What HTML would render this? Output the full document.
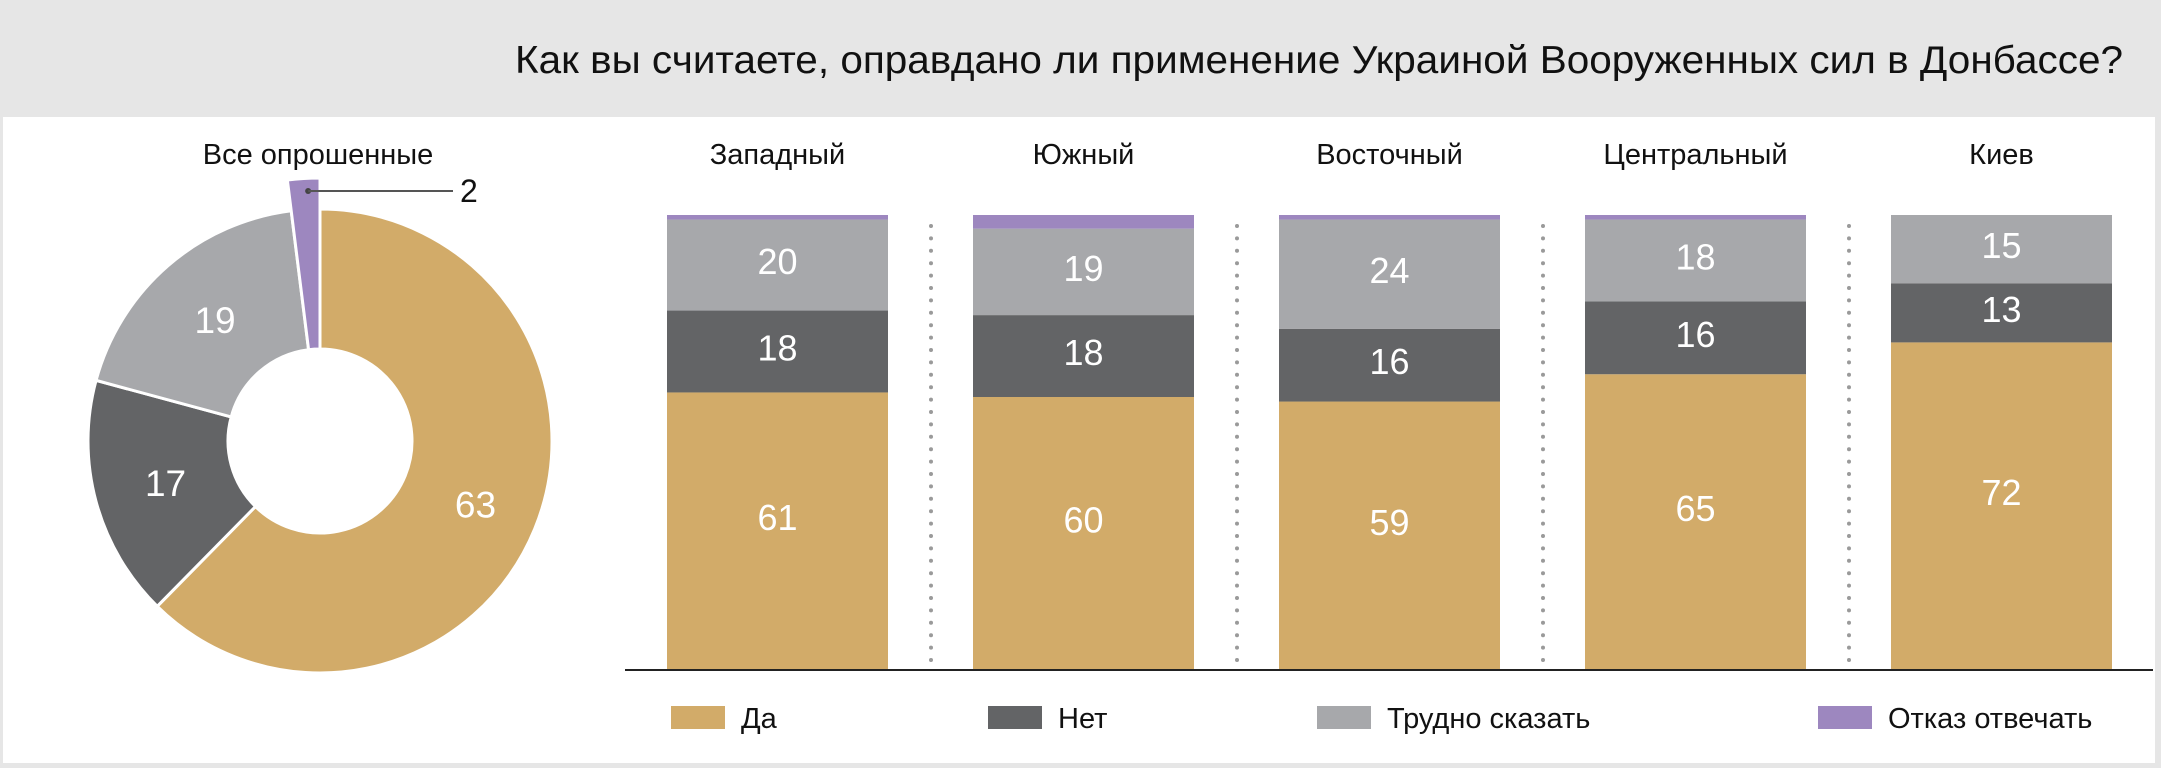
<!DOCTYPE html>
<html><head><meta charset="utf-8">
<style>
html,body{margin:0;padding:0;background:#e6e6e6;}
svg{display:block;font-family:"Liberation Sans","DejaVu Sans",sans-serif;}
</style></head>
<body>
<svg id="chart" width="2161" height="768" viewBox="0 0 2161 768" xmlns="http://www.w3.org/2000/svg">
<rect x="0" y="0" width="2161" height="768" fill="#e6e6e6"/>
<rect x="3" y="117" width="2152" height="646" fill="#ffffff"/>
<text x="2123" y="73" text-anchor="end" font-size="39" fill="#111" textLength="1608" lengthAdjust="spacingAndGlyphs">Как вы считаете, оправдано ли применение Украиной Вооруженных сил в  Донбассе?</text>
<g id="donut"></g>
<g id="bars"></g>
<g id="legend"></g>
</svg>
<script>
const seriesNames = ["Да","Нет","Трудно сказать","Отказ отвечать"];
const colors = ["#d2ab69","#636466","#a7a8ab","#9d87bf"];
const donutValues = [63,17,19,2];
const categories = ["Западный","Южный","Восточный","Центральный","Киев"];
const yesValues = [61,60,59,65,72];
const noValues = [18,18,16,16,13];
const hardValues = [20,19,24,18,15];
const refuseValues = [1,3,1,1,0];

const NS="http://www.w3.org/2000/svg";
function mk(tag,attrs,parent){const e=document.createElementNS(NS,tag);for(const k in attrs)e.setAttribute(k,attrs[k]);parent.appendChild(e);return e;}

// Donut
const dg=document.getElementById('donut');
const cx=320, cy=441, rOut=232, rIn=92, rExp=263;
const total=donutValues.reduce((a,b)=>a+b,0);
function pt(r,a){return [cx+r*Math.sin(a), cy-r*Math.cos(a)];}
let acc=0;
const donutNames=['donut-slice-yes','donut-slice-no','donut-slice-hard','donut-slice-refuse'];
const labelPos=[];
donutValues.forEach((v,i)=>{
  const a0=acc/total*2*Math.PI; acc+=v; const a1=acc/total*2*Math.PI;
  const ro = i===3 ? rExp : rOut;
  const large=(a1-a0)>Math.PI?1:0;
  const p0=pt(ro,a0),p1=pt(ro,a1),q1=pt(rIn,a1),q0=pt(rIn,a0);
  const d=`M${p0[0]},${p0[1]} A${ro},${ro} 0 ${large} 1 ${p1[0]},${p1[1]} L${q1[0]},${q1[1]} A${rIn},${rIn} 0 ${large} 0 ${q0[0]},${q0[1]} Z`;
  const p=mk('path',{d:d,fill:colors[i],stroke:'#fff','stroke-width':3},dg);
  
  
  labelPos.push([(a0+a1)/2]);
});
const dLabelIdx=[0,1,2];
dLabelIdx.forEach(i=>{
  const am=labelPos[i][0];
  const rr=(i===0)?168:160;
  const p=pt(rr,am);
  const t=mk('text',{x:p[0],y:p[1]+13,'text-anchor':'middle','font-size':37,fill:'#fff'},dg);
  t.textContent=donutValues[i];
  
  
});
// refuse callout
{
  const am=labelPos[3][0];
  const p=pt(rExp-72,am);
  const c=mk('circle',{cx:p[0],cy:191,r:3,fill:'#444'},dg);
  
  
  const l=mk('line',{x1:p[0],y1:191,x2:453,y2:191,stroke:'#555','stroke-width':2},dg);
  
  
  const t=mk('text',{x:460,y:202,'font-size':32,fill:'#111'},dg);
  t.textContent=donutValues[3];
  
  
}
const dt=mk('text',{x:318,y:164,'text-anchor':'middle','font-size':29,fill:'#111'},dg);
dt.textContent='Все опрошенные';



// Bars
const bg=document.getElementById('bars');
const baseY=670, topY=215, barW=221, x0=667, pitch=306;
function yScale(v){return v*(baseY-topY)/100;}
const stacks=[yesValues,noValues,hardValues,refuseValues];
const segNames=['bar-yes','bar-no','bar-hard','bar-refuse'];
categories.forEach((cat,ci)=>{
  const bx=x0+ci*pitch;
  let y=baseY;
  stacks.forEach((arr,si)=>{
    const v=arr[ci]; const h=yScale(v);
    if(v<=0) return;
    const r=mk('rect',{x:bx,y:y-h,width:barW,height:h,fill:colors[si]},bg);
    
    
    if(si<3){
      const off = si===0 ? -14 : -4;
      const t=mk('text',{x:bx+barW/2,y:y-h/2+13+off,'text-anchor':'middle','font-size':36,fill:'#fff'},bg);
      t.textContent=v;
      
      
    }
    y-=h;
  });
  const ct=mk('text',{x:bx+barW/2,y:164,'text-anchor':'middle','font-size':29,fill:'#111'},bg);
  ct.textContent=cat;
  
  
  if(ci<categories.length-1){
    const sx=bx+barW+43;
    for(let dy=226; dy<=662; dy+=12.4){
      const c=mk('circle',{cx:sx,cy:dy,r:2,fill:'#9a9a9a'},bg);
      
      
    }
  }
});
const bl=mk('line',{x1:625,y1:670,x2:2153,y2:670,stroke:'#222','stroke-width':2},bg);



// Legend
const lg=document.getElementById('legend');
const legX=[671,988,1317,1818];
seriesNames.forEach((n,i)=>{
  const r=mk('rect',{x:legX[i],y:706,width:54,height:23,fill:colors[i]},lg);
  
  
  const t=mk('text',{x:legX[i]+70,y:728,'font-size':29,fill:'#111'},lg);
  t.textContent=n;
  
  
});
</script>
</body></html>
